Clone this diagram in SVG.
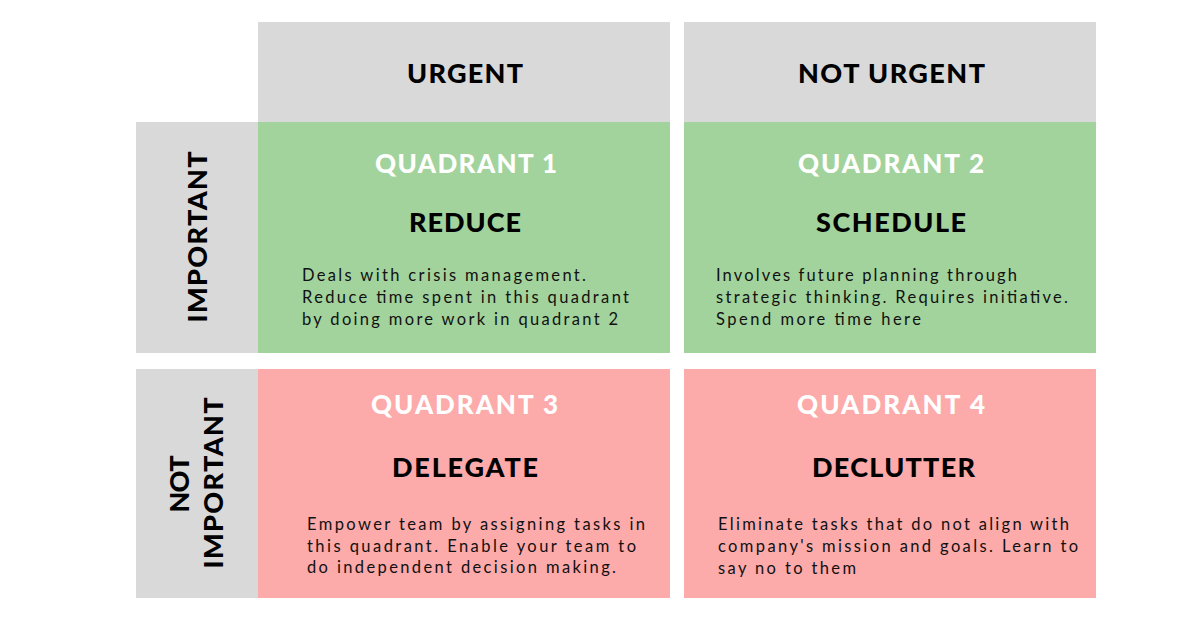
<svg xmlns="http://www.w3.org/2000/svg" width="1200" height="630" viewBox="0 0 1200 630">
<style>
.hdr{fill:#D9D9D9}
.green{fill:#A3D39C}
.pink{fill:#FDAAAA}
.t{font-family:Lato,"Liberation Sans",sans-serif;font-weight:900;font-size:27px;fill:#000}
.q{font-family:Lato,"Liberation Sans",sans-serif;font-weight:900;font-size:26px;fill:#fff}
.b{font-family:Lato,"Liberation Sans",sans-serif;font-weight:400;font-size:16.5px;fill:#111}
</style>
<rect width="1200" height="630" fill="#fff"/>
<g id="header-urgent">
<rect class="hdr" x="258" y="22" width="412" height="100"/>
<text class="t" x="407" y="83" textLength="116" lengthAdjust="spacing">URGENT</text>
</g>
<g id="header-not-urgent">
<rect class="hdr" x="684" y="22" width="412" height="100"/>
<text class="t" x="798" y="83" textLength="187" lengthAdjust="spacing">NOT URGENT</text>
</g>
<g id="label-important">
<rect class="hdr" x="136" y="122" width="122" height="231"/>
<text class="t" transform="translate(207,237) rotate(-90)" x="0" y="0" text-anchor="middle" textLength="171" lengthAdjust="spacing">IMPORTANT</text>
</g>
<g id="label-not-important">
<rect class="hdr" x="136" y="369" width="122" height="229"/>
<text class="t" transform="translate(189,484) rotate(-90)" x="0" y="0" text-anchor="middle" textLength="57" lengthAdjust="spacing">NOT</text>
<text class="t" transform="translate(223,483) rotate(-90)" x="0" y="0" text-anchor="middle" textLength="171" lengthAdjust="spacing">IMPORTANT</text>
</g>
<g id="quadrant-1">
<rect class="green" x="258" y="122" width="412" height="231"/>
<text class="q" x="375" y="173" textLength="182" lengthAdjust="spacing">QUADRANT 1</text>
<text class="t" x="409" y="232" textLength="112" lengthAdjust="spacing">REDUCE</text>
<text class="b" x="302" y="281" textLength="284" lengthAdjust="spacing">Deals with crisis management.</text>
<text class="b" x="302" y="303" textLength="327" lengthAdjust="spacing">Reduce time spent in this quadrant</text>
<text class="b" x="302" y="325" textLength="316" lengthAdjust="spacing">by doing more work in quadrant 2</text>
</g>
<g id="quadrant-2">
<rect class="green" x="684" y="122" width="412" height="231"/>
<text class="q" x="798" y="173" textLength="186" lengthAdjust="spacing">QUADRANT 2</text>
<text class="t" x="816" y="232" textLength="150" lengthAdjust="spacing">SCHEDULE</text>
<text class="b" x="716" y="281" textLength="301" lengthAdjust="spacing">Involves future planning through</text>
<text class="b" x="716" y="303" textLength="352" lengthAdjust="spacing">strategic thinking. Requires initiative.</text>
<text class="b" x="716" y="325" textLength="205" lengthAdjust="spacing">Spend more time here</text>
</g>
<g id="quadrant-3">
<rect class="pink" x="258" y="369" width="412" height="229"/>
<text class="q" x="371" y="414" textLength="187" lengthAdjust="spacing">QUADRANT 3</text>
<text class="t" x="392" y="477" textLength="146" lengthAdjust="spacing">DELEGATE</text>
<text class="b" x="307" y="530" textLength="338" lengthAdjust="spacing">Empower team by assigning tasks in</text>
<text class="b" x="307" y="552" textLength="329" lengthAdjust="spacing">this quadrant. Enable your team to</text>
<text class="b" x="307" y="573" textLength="309" lengthAdjust="spacing">do independent decision making.</text>
</g>
<g id="quadrant-4">
<rect class="pink" x="684" y="369" width="412" height="229"/>
<text class="q" x="797" y="414" textLength="188" lengthAdjust="spacing">QUADRANT 4</text>
<text class="t" x="812" y="477" textLength="163" lengthAdjust="spacing">DECLUTTER</text>
<text class="b" x="718" y="530" textLength="351" lengthAdjust="spacing">Eliminate tasks that do not align with</text>
<text class="b" x="718" y="552" textLength="360" lengthAdjust="spacing">company's mission and goals. Learn to</text>
<text class="b" x="718" y="574" textLength="138" lengthAdjust="spacing">say no to them</text>
</g>
<g id="connectors"></g>
</svg>
